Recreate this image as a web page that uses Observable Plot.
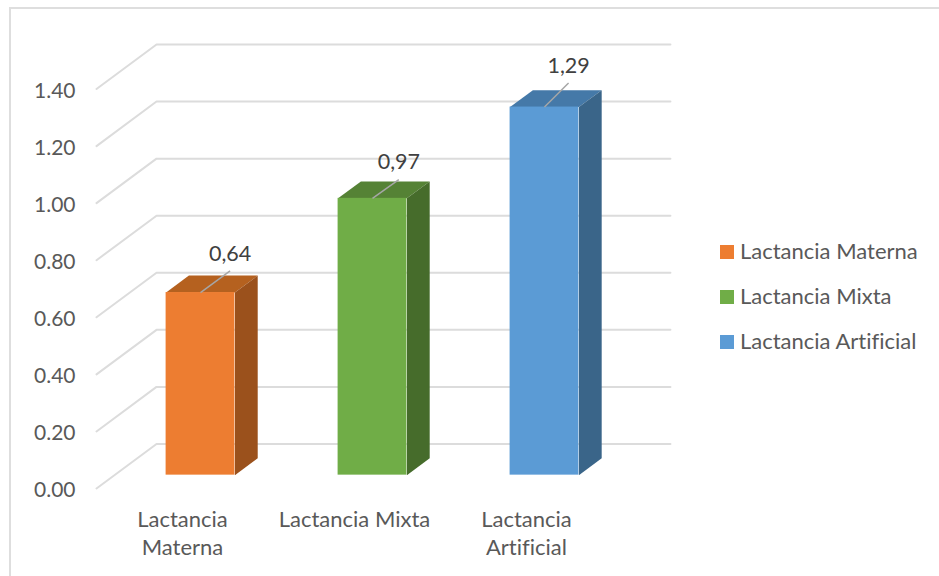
<!DOCTYPE html>
<html lang="es">
<head>
<meta charset="utf-8">
<title>Tipo de lactancia</title>
<script src="https://cdn.jsdelivr.net/npm/d3@7"></script>
<script src="https://cdn.jsdelivr.net/npm/@observablehq/plot@0.6"></script>
<style>
  html, body { margin: 0; padding: 0; background: #fff; }
  #chart { position: relative; width: 939px; height: 576px; overflow: hidden; font-family: Lato, sans-serif; color: #595959; font-variant-ligatures: none; }
  #chart svg { display: block; position: absolute; left: 0; top: 0; font-variant-ligatures: none; }
  #edge { position: absolute; left: 9px; top: 7px; right: -4px; bottom: -4px; border-left: 2px solid #dedede; border-top: 2px solid #dedede; }
  #legend { position: absolute; left: 720px; top: 229px; font-size: 22px; }
  .entry { display: flex; align-items: center; height: 45px; white-space: nowrap; }
  .swatch { width: 14px; height: 14px; margin-right: 6px; flex: none; }
  .name { position: relative; top: -1px; }
</style>
</head>
<body>
<div id="chart"><div id="edge"></div></div>
<script>
// Values of the chart
const categories = ["Lactancia Materna", "Lactancia Mixta", "Lactancia Artificial"];
const axisLabels = ["Lactancia\nMaterna", "Lactancia Mixta", "Lactancia\nArtificial"];
const values = [0.64, 0.97, 1.29];
const valueTicks = [0, 0.2, 0.4, 0.6, 0.8, 1.0, 1.2, 1.4];

// Face colours of each column
const frontColors = ["#ed7d31", "#70ad47", "#5b9bd5"];
const sideColors = ["#9b511c", "#466c2b", "#3a6589"];
const topColors = ["#b5611f", "#558235", "#4579a8"];

// Oblique projection: a depth of 1 moves a point from the front of the floor to the back wall
const skewX = 0.349;
const skewY = 0.156;
const px = (category, depth) => category + depth * skewX;
const py = (value, depth) => value + depth * skewY;

// The column occupies the middle of each slot, in both width and depth
const halfWidth = 0.2;
const depthFront = 0.3;
const depthBack = 0.68;
const wallEnd = categories.length - 0.012;

// Leader line reach, in category and value units
const leaderX = [0.172, 0.153, 0.14];
const leaderY = [0.076, 0.066, 0.084];

const slots = categories.map((name, i) => ({
  name,
  label: axisLabels[i],
  value: values[i],
  center: i + 0.5,
  left: i + 0.5 - halfWidth,
  right: i + 0.5 + halfWidth,
  front: frontColors[i],
  side: sideColors[i],
  top: topColors[i],
  endX: px(i + 0.5, depthFront) + leaderX[i],
  endY: py(values[i], depthFront) + leaderY[i]
}));

// Floor-to-wall polyline for each gridline
const gridPoints = valueTicks.flatMap((v) => [
  {tick: v, x: px(0, 0), y: py(v, 0)},
  {tick: v, x: px(0, 1), y: py(v, 1)},
  {tick: v, x: px(wallEnd, 1), y: py(v, 1)}
]);

// Corner lists for the side and top faces of the columns
const sideFaces = slots.flatMap((s) => [
  [s.right, 0, depthFront], [s.right, 0, depthBack], [s.right, s.value, depthBack], [s.right, s.value, depthFront]
].map(([c, v, d]) => ({id: s.name, fill: s.side, x: px(c, d), y: py(v, d)})));

const topFaces = slots.flatMap((s) => [
  [s.left, s.value, depthFront], [s.left, s.value, depthBack], [s.right, s.value, depthBack], [s.right, s.value, depthFront]
].map(([c, v, d]) => ({id: s.name, fill: s.top, x: px(c, d), y: py(v, d)})));

const decimalComma = (v) => v.toFixed(2).replace(".", ",");

const plot = Plot.plot({
  width: 939,
  height: 576,
  marginLeft: 96,
  marginRight: 267,
  marginTop: 44,
  marginBottom: 88,
  style: {fontFamily: "Lato, sans-serif", color: "#595959", background: "transparent", overflow: "visible"},
  x: {domain: [0, categories.length + skewX], axis: null},
  y: {domain: [0, 1.4 + skewY], axis: null},
  color: {type: "identity"},
  marks: [
    Plot.line(gridPoints, {x: "x", y: "y", z: "tick", stroke: "#dcdcdc", strokeWidth: 2, curve: "linear"}),
    Plot.line(topFaces, {x: "x", y: "y", z: "id", fill: "fill", stroke: "none"}),
    Plot.line(sideFaces, {x: "x", y: "y", z: "id", fill: "fill", stroke: "none"}),
    Plot.rect(slots, {
      x1: (s) => px(s.left, depthFront),
      x2: (s) => px(s.right, depthFront),
      y1: () => py(0, depthFront),
      y2: (s) => py(s.value, depthFront),
      fill: "front"
    }),
    Plot.link(slots, {
      x1: (s) => px(s.center, depthFront),
      y1: (s) => py(s.value, depthFront),
      x2: "endX",
      y2: "endY",
      stroke: "#a6a6a6",
      strokeWidth: 1.5
    }),
    Plot.text(slots, {
      x: "endX",
      y: "endY",
      text: (s) => decimalComma(s.value),
      dy: -17,
      fontSize: 21.5,
      fill: "#404040"
    }),
    Plot.text(valueTicks, {
      x: 0,
      y: (v) => v,
      text: (v) => v.toFixed(2),
      textAnchor: "end",
      dx: -21,
      dy: 2,
      fontSize: 21,
      fill: "#595959"
    }),
    Plot.text(slots, {
      x: "center",
      y: 0,
      text: "label",
      lineAnchor: "top",
      lineHeight: 1.27,
      dy: 19,
      fontSize: 22,
      fill: "#595959"
    })
  ]
});

const chart = document.getElementById("chart");
chart.appendChild(plot);

// Legend to the right of the plot
const legend = d3.select(chart).append("div").attr("id", "legend");
const entries = legend.selectAll("div").data(slots).join("div").attr("class", "entry");
entries.append("span").attr("class", "swatch").style("background", (s) => s.front);
entries.append("span").attr("class", "name").text((s) => s.name);
</script>
</body>
</html>
